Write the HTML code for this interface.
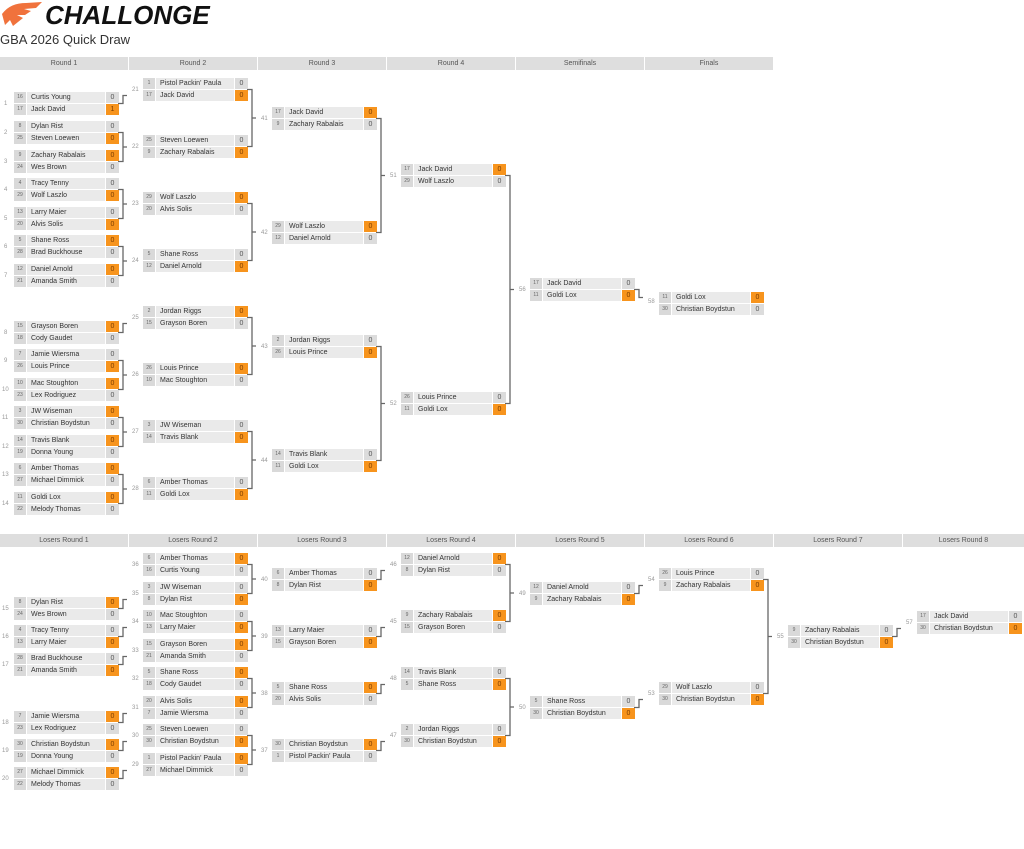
<!DOCTYPE html>
<html><head><meta charset="utf-8"><style>
body{margin:0;width:1024px;height:849px;background:#fff;position:relative;overflow:hidden;font-family:"Liberation Sans",sans-serif}
.h{position:absolute;height:13px;background:#dedede;color:#555;font-size:7px;line-height:13px;text-align:center}
.m{position:absolute;width:105px}
.r{display:flex;height:11px;margin-bottom:1px;font-size:7px;line-height:11px}
.r i{font-style:normal;width:12px;background:#d9d9d9;color:#666;font-size:5px;text-align:center}
.r b{font-weight:normal;flex:1;background:#eaeaea;color:#333;padding-left:4px;margin-left:1px;white-space:nowrap;overflow:hidden}
.r s{text-decoration:none;width:13px;background:#dcdcdc;text-align:center;color:#555;margin-left:1px}
.r s.w{background:#f7941d;color:#7a3c00}
.n{position:absolute;font-size:6px;color:#999;line-height:6px}
svg{position:absolute;left:0;top:0}
</style></head><body>
<svg width="50" height="28" viewBox="0 0 50 28"><path d="M2 14 C8 6 16 3 26 3 L42 2 L36 8 L24 9 L31 11 L25 15 L17 15 L23 18 L13 26 L10 20 L5 25 Z" fill="#f0723c"/></svg>
<div style="position:absolute;left:45px;top:0px;font-size:26px;font-weight:bold;font-style:italic;color:#111">CHALLONGE</div>
<div style="position:absolute;left:0;top:32px;font-size:13px;color:#333">GBA 2026 Quick Draw</div>

<div class="h" style="left:0;top:57px;width:128px">Round 1</div>
<div class="h" style="left:129px;top:57px;width:128px">Round 2</div>
<div class="h" style="left:258px;top:57px;width:128px">Round 3</div>
<div class="h" style="left:387px;top:57px;width:128px">Round 4</div>
<div class="h" style="left:516px;top:57px;width:128px">Semifinals</div>
<div class="h" style="left:645px;top:57px;width:128px">Finals</div>
<div class="h" style="left:0;top:534px;width:128px">Losers Round 1</div>
<div class="h" style="left:129px;top:534px;width:128px">Losers Round 2</div>
<div class="h" style="left:258px;top:534px;width:128px">Losers Round 3</div>
<div class="h" style="left:387px;top:534px;width:128px">Losers Round 4</div>
<div class="h" style="left:516px;top:534px;width:128px">Losers Round 5</div>
<div class="h" style="left:645px;top:534px;width:128px">Losers Round 6</div>
<div class="h" style="left:774px;top:534px;width:128px">Losers Round 7</div>
<div class="h" style="left:903px;top:534px;width:121px">Losers Round 8</div>

<svg width="1024" height="849"><g fill="none" stroke="#666" stroke-width="1.3">
<path d="M118 103.5H123V95.5H127"/>
<path d="M118 132.5H123V161.5H118M123 147H127"/>
<path d="M118 189.5H123V218.5H118M123 204H127"/>
<path d="M118 246.5H123V275.5H118M123 261H127"/>
<path d="M118 332.5H123V323.5H127"/>
<path d="M118 360.5H123V389.5H118M123 375H127"/>
<path d="M118 417.5H123V446.5H118M123 432H127"/>
<path d="M118 474.5H123V503.5H118M123 489H127"/>
<path d="M247 89.5H252V146.5H247M252 118H256"/>
<path d="M247 203.5H252V260.5H247M252 232H256"/>
<path d="M247 317.5H252V374.5H247M252 346H256"/>
<path d="M247 431.5H252V488.5H247M252 460H256"/>
<path d="M376 118.5H381V232.5H376M381 175.5H385"/>
<path d="M376 346.5H381V460.5H376M381 403.5H385"/>
<path d="M505 175.5H510V403.5H505M510 289.5H514"/>
<path d="M634 289.5H639V297.5H643"/>
<path d="M118 608.5H123V599.5H127"/>
<path d="M118 636.5H123V627.5H127"/>
<path d="M118 664.5H123V656.5H127"/>
<path d="M118 722.5H123V713.5H127"/>
<path d="M118 750.5H123V741.5H127"/>
<path d="M118 778.5H123V770.5H127"/>
<path d="M247 564.5H252V593.5H247M252 579H256"/>
<path d="M247 621.5H252V650.5H247M252 636H256"/>
<path d="M247 678.5H252V707.5H247M252 693H256"/>
<path d="M247 735.5H252V764.5H247M252 750H256"/>
<path d="M376 579.5H381V570.5H385"/>
<path d="M376 636.5H381V627.5H385"/>
<path d="M376 693.5H381V684.5H385"/>
<path d="M376 750.5H381V741.5H385"/>
<path d="M505 564.5H510V621.5H505M510 593H514"/>
<path d="M505 678.5H510V735.5H505M510 707H514"/>
<path d="M634 593.5H639V585.5H643"/>
<path d="M634 707.5H639V699.5H643"/>
<path d="M763 579.5H768V693.5H763M768 636.5H772"/>
<path d="M892 636.5H897V628.5H901"/>
</g></svg>

<div class="n" style="left:4px;top:101px">1</div><div class="n" style="left:4px;top:130px">2</div><div class="n" style="left:4px;top:159px">3</div><div class="n" style="left:4px;top:187px">4</div><div class="n" style="left:4px;top:216px">5</div><div class="n" style="left:4px;top:244px">6</div><div class="n" style="left:4px;top:273px">7</div><div class="n" style="left:4px;top:330px">8</div><div class="n" style="left:4px;top:358px">9</div><div class="n" style="left:2px;top:387px">10</div><div class="n" style="left:2px;top:415px">11</div><div class="n" style="left:2px;top:444px">12</div><div class="n" style="left:2px;top:472px">13</div><div class="n" style="left:2px;top:501px">14</div>
<div class="n" style="left:132px;top:87px">21</div><div class="n" style="left:132px;top:144px">22</div><div class="n" style="left:132px;top:201px">23</div><div class="n" style="left:132px;top:258px">24</div><div class="n" style="left:132px;top:315px">25</div><div class="n" style="left:132px;top:372px">26</div><div class="n" style="left:132px;top:429px">27</div><div class="n" style="left:132px;top:486px">28</div>
<div class="n" style="left:261px;top:116px">41</div><div class="n" style="left:261px;top:230px">42</div><div class="n" style="left:261px;top:344px">43</div><div class="n" style="left:261px;top:458px">44</div>
<div class="n" style="left:390px;top:173px">51</div><div class="n" style="left:390px;top:401px">52</div>
<div class="n" style="left:519px;top:287px">56</div><div class="n" style="left:648px;top:299px">58</div>
<div class="n" style="left:2px;top:606px">15</div><div class="n" style="left:2px;top:634px">16</div><div class="n" style="left:2px;top:662px">17</div><div class="n" style="left:2px;top:720px">18</div><div class="n" style="left:2px;top:748px">19</div><div class="n" style="left:2px;top:776px">20</div>
<div class="n" style="left:132px;top:562px">36</div><div class="n" style="left:132px;top:591px">35</div><div class="n" style="left:132px;top:619px">34</div><div class="n" style="left:132px;top:648px">33</div><div class="n" style="left:132px;top:676px">32</div><div class="n" style="left:132px;top:705px">31</div><div class="n" style="left:132px;top:733px">30</div><div class="n" style="left:132px;top:762px">29</div>
<div class="n" style="left:261px;top:577px">40</div><div class="n" style="left:261px;top:634px">39</div><div class="n" style="left:261px;top:691px">38</div><div class="n" style="left:261px;top:748px">37</div>
<div class="n" style="left:390px;top:562px">46</div><div class="n" style="left:390px;top:619px">45</div><div class="n" style="left:390px;top:676px">48</div><div class="n" style="left:390px;top:733px">47</div>
<div class="n" style="left:519px;top:591px">49</div><div class="n" style="left:519px;top:705px">50</div>
<div class="n" style="left:648px;top:577px">54</div><div class="n" style="left:648px;top:691px">53</div>
<div class="n" style="left:777px;top:634px">55</div><div class="n" style="left:906px;top:620px">57</div>

<div class="m" style="left:14px;top:92px"><div class="r"><i>16</i><b>Curtis Young</b><s>0</s></div><div class="r"><i>17</i><b>Jack David</b><s class="w">1</s></div></div>
<div class="m" style="left:14px;top:121px"><div class="r"><i>8</i><b>Dylan Rist</b><s>0</s></div><div class="r"><i>25</i><b>Steven Loewen</b><s class="w">0</s></div></div>
<div class="m" style="left:14px;top:150px"><div class="r"><i>9</i><b>Zachary Rabalais</b><s class="w">0</s></div><div class="r"><i>24</i><b>Wes Brown</b><s>0</s></div></div>
<div class="m" style="left:14px;top:178px"><div class="r"><i>4</i><b>Tracy Tenny</b><s>0</s></div><div class="r"><i>29</i><b>Wolf Laszlo</b><s class="w">0</s></div></div>
<div class="m" style="left:14px;top:207px"><div class="r"><i>13</i><b>Larry Maier</b><s>0</s></div><div class="r"><i>20</i><b>Alvis Solis</b><s class="w">0</s></div></div>
<div class="m" style="left:14px;top:235px"><div class="r"><i>5</i><b>Shane Ross</b><s class="w">0</s></div><div class="r"><i>28</i><b>Brad Buckhouse</b><s>0</s></div></div>
<div class="m" style="left:14px;top:264px"><div class="r"><i>12</i><b>Daniel Arnold</b><s class="w">0</s></div><div class="r"><i>21</i><b>Amanda Smith</b><s>0</s></div></div>
<div class="m" style="left:14px;top:321px"><div class="r"><i>15</i><b>Grayson Boren</b><s class="w">0</s></div><div class="r"><i>18</i><b>Cody Gaudet</b><s>0</s></div></div>
<div class="m" style="left:14px;top:349px"><div class="r"><i>7</i><b>Jamie Wiersma</b><s>0</s></div><div class="r"><i>26</i><b>Louis Prince</b><s class="w">0</s></div></div>
<div class="m" style="left:14px;top:378px"><div class="r"><i>10</i><b>Mac Stoughton</b><s class="w">0</s></div><div class="r"><i>23</i><b>Lex Rodriguez</b><s>0</s></div></div>
<div class="m" style="left:14px;top:406px"><div class="r"><i>3</i><b>JW Wiseman</b><s class="w">0</s></div><div class="r"><i>30</i><b>Christian Boydstun</b><s>0</s></div></div>
<div class="m" style="left:14px;top:435px"><div class="r"><i>14</i><b>Travis Blank</b><s class="w">0</s></div><div class="r"><i>19</i><b>Donna Young</b><s>0</s></div></div>
<div class="m" style="left:14px;top:463px"><div class="r"><i>6</i><b>Amber Thomas</b><s class="w">0</s></div><div class="r"><i>27</i><b>Michael Dimmick</b><s>0</s></div></div>
<div class="m" style="left:14px;top:492px"><div class="r"><i>11</i><b>Goldi Lox</b><s class="w">0</s></div><div class="r"><i>22</i><b>Melody Thomas</b><s>0</s></div></div>
<div class="m" style="left:143px;top:78px"><div class="r"><i>1</i><b>Pistol Packin' Paula</b><s>0</s></div><div class="r"><i>17</i><b>Jack David</b><s class="w">0</s></div></div>
<div class="m" style="left:143px;top:135px"><div class="r"><i>25</i><b>Steven Loewen</b><s>0</s></div><div class="r"><i>9</i><b>Zachary Rabalais</b><s class="w">0</s></div></div>
<div class="m" style="left:143px;top:192px"><div class="r"><i>29</i><b>Wolf Laszlo</b><s class="w">0</s></div><div class="r"><i>20</i><b>Alvis Solis</b><s>0</s></div></div>
<div class="m" style="left:143px;top:249px"><div class="r"><i>5</i><b>Shane Ross</b><s>0</s></div><div class="r"><i>12</i><b>Daniel Arnold</b><s class="w">0</s></div></div>
<div class="m" style="left:143px;top:306px"><div class="r"><i>2</i><b>Jordan Riggs</b><s class="w">0</s></div><div class="r"><i>15</i><b>Grayson Boren</b><s>0</s></div></div>
<div class="m" style="left:143px;top:363px"><div class="r"><i>26</i><b>Louis Prince</b><s class="w">0</s></div><div class="r"><i>10</i><b>Mac Stoughton</b><s>0</s></div></div>
<div class="m" style="left:143px;top:420px"><div class="r"><i>3</i><b>JW Wiseman</b><s>0</s></div><div class="r"><i>14</i><b>Travis Blank</b><s class="w">0</s></div></div>
<div class="m" style="left:143px;top:477px"><div class="r"><i>6</i><b>Amber Thomas</b><s>0</s></div><div class="r"><i>11</i><b>Goldi Lox</b><s class="w">0</s></div></div>
<div class="m" style="left:272px;top:107px"><div class="r"><i>17</i><b>Jack David</b><s class="w">0</s></div><div class="r"><i>9</i><b>Zachary Rabalais</b><s>0</s></div></div>
<div class="m" style="left:272px;top:221px"><div class="r"><i>29</i><b>Wolf Laszlo</b><s class="w">0</s></div><div class="r"><i>12</i><b>Daniel Arnold</b><s>0</s></div></div>
<div class="m" style="left:272px;top:335px"><div class="r"><i>2</i><b>Jordan Riggs</b><s>0</s></div><div class="r"><i>26</i><b>Louis Prince</b><s class="w">0</s></div></div>
<div class="m" style="left:272px;top:449px"><div class="r"><i>14</i><b>Travis Blank</b><s>0</s></div><div class="r"><i>11</i><b>Goldi Lox</b><s class="w">0</s></div></div>
<div class="m" style="left:401px;top:164px"><div class="r"><i>17</i><b>Jack David</b><s class="w">0</s></div><div class="r"><i>29</i><b>Wolf Laszlo</b><s>0</s></div></div>
<div class="m" style="left:401px;top:392px"><div class="r"><i>26</i><b>Louis Prince</b><s>0</s></div><div class="r"><i>11</i><b>Goldi Lox</b><s class="w">0</s></div></div>
<div class="m" style="left:530px;top:278px"><div class="r"><i>17</i><b>Jack David</b><s>0</s></div><div class="r"><i>11</i><b>Goldi Lox</b><s class="w">0</s></div></div>
<div class="m" style="left:659px;top:292px"><div class="r"><i>11</i><b>Goldi Lox</b><s class="w">0</s></div><div class="r"><i>30</i><b>Christian Boydstun</b><s>0</s></div></div>

<div class="m" style="left:14px;top:597px"><div class="r"><i>8</i><b>Dylan Rist</b><s class="w">0</s></div><div class="r"><i>24</i><b>Wes Brown</b><s>0</s></div></div>
<div class="m" style="left:14px;top:625px"><div class="r"><i>4</i><b>Tracy Tenny</b><s>0</s></div><div class="r"><i>13</i><b>Larry Maier</b><s class="w">0</s></div></div>
<div class="m" style="left:14px;top:653px"><div class="r"><i>28</i><b>Brad Buckhouse</b><s>0</s></div><div class="r"><i>21</i><b>Amanda Smith</b><s class="w">0</s></div></div>
<div class="m" style="left:14px;top:711px"><div class="r"><i>7</i><b>Jamie Wiersma</b><s class="w">0</s></div><div class="r"><i>23</i><b>Lex Rodriguez</b><s>0</s></div></div>
<div class="m" style="left:14px;top:739px"><div class="r"><i>30</i><b>Christian Boydstun</b><s class="w">0</s></div><div class="r"><i>19</i><b>Donna Young</b><s>0</s></div></div>
<div class="m" style="left:14px;top:767px"><div class="r"><i>27</i><b>Michael Dimmick</b><s class="w">0</s></div><div class="r"><i>22</i><b>Melody Thomas</b><s>0</s></div></div>
<div class="m" style="left:143px;top:553px"><div class="r"><i>6</i><b>Amber Thomas</b><s class="w">0</s></div><div class="r"><i>16</i><b>Curtis Young</b><s>0</s></div></div>
<div class="m" style="left:143px;top:582px"><div class="r"><i>3</i><b>JW Wiseman</b><s>0</s></div><div class="r"><i>8</i><b>Dylan Rist</b><s class="w">0</s></div></div>
<div class="m" style="left:143px;top:610px"><div class="r"><i>10</i><b>Mac Stoughton</b><s>0</s></div><div class="r"><i>13</i><b>Larry Maier</b><s class="w">0</s></div></div>
<div class="m" style="left:143px;top:639px"><div class="r"><i>15</i><b>Grayson Boren</b><s class="w">0</s></div><div class="r"><i>21</i><b>Amanda Smith</b><s>0</s></div></div>
<div class="m" style="left:143px;top:667px"><div class="r"><i>5</i><b>Shane Ross</b><s class="w">0</s></div><div class="r"><i>18</i><b>Cody Gaudet</b><s>0</s></div></div>
<div class="m" style="left:143px;top:696px"><div class="r"><i>20</i><b>Alvis Solis</b><s class="w">0</s></div><div class="r"><i>7</i><b>Jamie Wiersma</b><s>0</s></div></div>
<div class="m" style="left:143px;top:724px"><div class="r"><i>25</i><b>Steven Loewen</b><s>0</s></div><div class="r"><i>30</i><b>Christian Boydstun</b><s class="w">0</s></div></div>
<div class="m" style="left:143px;top:753px"><div class="r"><i>1</i><b>Pistol Packin' Paula</b><s class="w">0</s></div><div class="r"><i>27</i><b>Michael Dimmick</b><s>0</s></div></div>
<div class="m" style="left:272px;top:568px"><div class="r"><i>6</i><b>Amber Thomas</b><s>0</s></div><div class="r"><i>8</i><b>Dylan Rist</b><s class="w">0</s></div></div>
<div class="m" style="left:272px;top:625px"><div class="r"><i>13</i><b>Larry Maier</b><s>0</s></div><div class="r"><i>15</i><b>Grayson Boren</b><s class="w">0</s></div></div>
<div class="m" style="left:272px;top:682px"><div class="r"><i>5</i><b>Shane Ross</b><s class="w">0</s></div><div class="r"><i>20</i><b>Alvis Solis</b><s>0</s></div></div>
<div class="m" style="left:272px;top:739px"><div class="r"><i>30</i><b>Christian Boydstun</b><s class="w">0</s></div><div class="r"><i>1</i><b>Pistol Packin' Paula</b><s>0</s></div></div>
<div class="m" style="left:401px;top:553px"><div class="r"><i>12</i><b>Daniel Arnold</b><s class="w">0</s></div><div class="r"><i>8</i><b>Dylan Rist</b><s>0</s></div></div>
<div class="m" style="left:401px;top:610px"><div class="r"><i>9</i><b>Zachary Rabalais</b><s class="w">0</s></div><div class="r"><i>15</i><b>Grayson Boren</b><s>0</s></div></div>
<div class="m" style="left:401px;top:667px"><div class="r"><i>14</i><b>Travis Blank</b><s>0</s></div><div class="r"><i>5</i><b>Shane Ross</b><s class="w">0</s></div></div>
<div class="m" style="left:401px;top:724px"><div class="r"><i>2</i><b>Jordan Riggs</b><s>0</s></div><div class="r"><i>30</i><b>Christian Boydstun</b><s class="w">0</s></div></div>
<div class="m" style="left:530px;top:582px"><div class="r"><i>12</i><b>Daniel Arnold</b><s>0</s></div><div class="r"><i>9</i><b>Zachary Rabalais</b><s class="w">0</s></div></div>
<div class="m" style="left:530px;top:696px"><div class="r"><i>5</i><b>Shane Ross</b><s>0</s></div><div class="r"><i>30</i><b>Christian Boydstun</b><s class="w">0</s></div></div>
<div class="m" style="left:659px;top:568px"><div class="r"><i>26</i><b>Louis Prince</b><s>0</s></div><div class="r"><i>9</i><b>Zachary Rabalais</b><s class="w">0</s></div></div>
<div class="m" style="left:659px;top:682px"><div class="r"><i>29</i><b>Wolf Laszlo</b><s>0</s></div><div class="r"><i>30</i><b>Christian Boydstun</b><s class="w">0</s></div></div>
<div class="m" style="left:788px;top:625px"><div class="r"><i>9</i><b>Zachary Rabalais</b><s>0</s></div><div class="r"><i>30</i><b>Christian Boydstun</b><s class="w">0</s></div></div>
<div class="m" style="left:917px;top:611px"><div class="r"><i>17</i><b>Jack David</b><s>0</s></div><div class="r"><i>30</i><b>Christian Boydstun</b><s class="w">0</s></div></div>
</body></html>
